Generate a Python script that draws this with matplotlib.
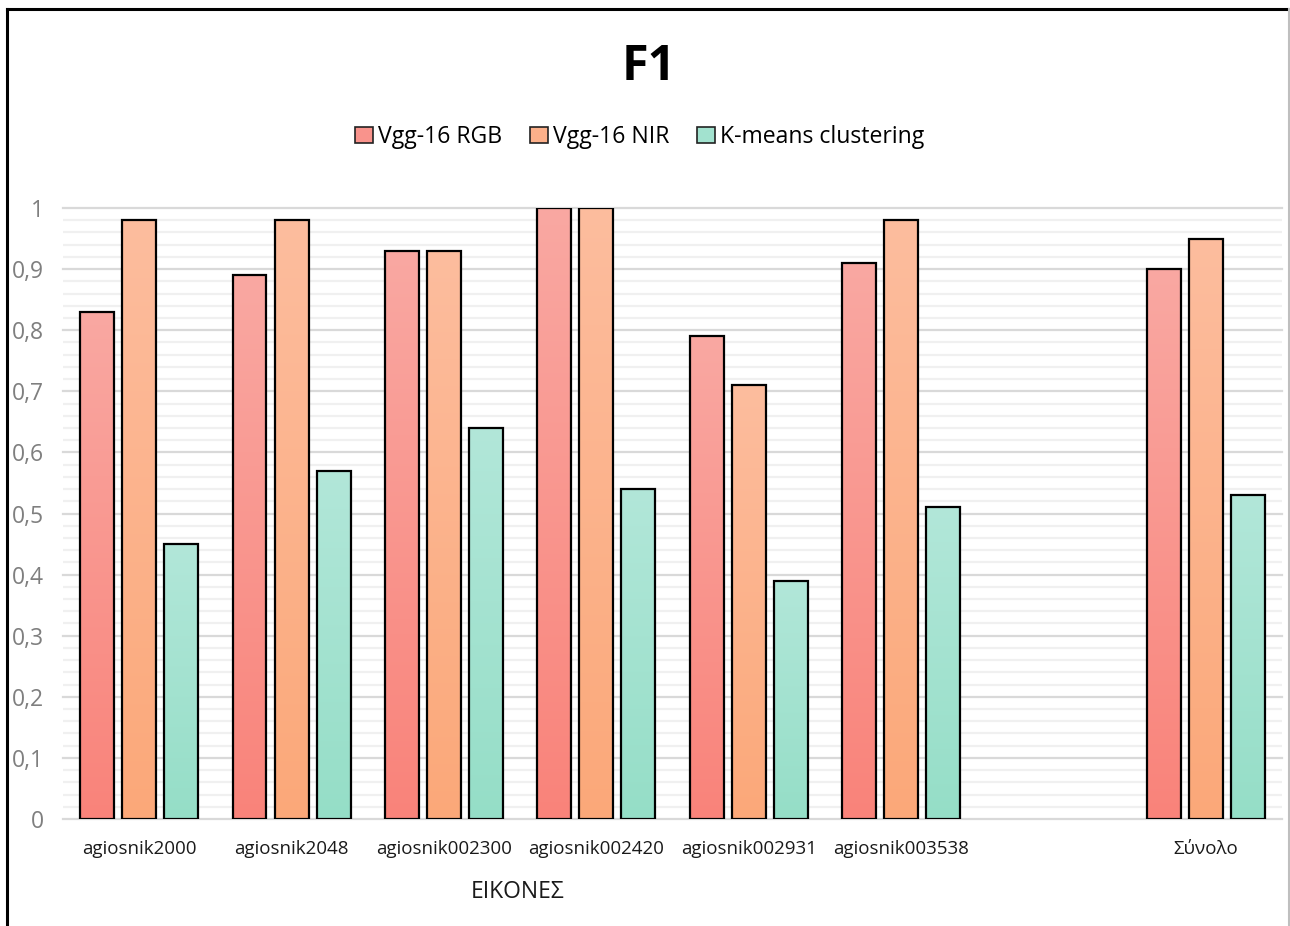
import numpy as np
import matplotlib
matplotlib.use("Agg")
import matplotlib.pyplot as plt
from matplotlib.colors import LinearSegmentedColormap
from matplotlib.patches import Rectangle, Patch
from matplotlib.lines import Line2D

plt.rcParams['font.family'] = ['Open Sans', 'DejaVu Sans']

categories = ["agiosnik2000", "agiosnik2048", "agiosnik002300", "agiosnik002420",
              "agiosnik002931", "agiosnik003538", "", "Σύνολο"]
series_names = ["Vgg-16 RGB", "Vgg-16 NIR", "K-means clustering"]
vgg_rgb = [0.83, 0.89, 0.93, 1.00, 0.79, 0.91, None, 0.90]
vgg_nir = [0.98, 0.98, 0.93, 1.00, 0.71, 0.98, None, 0.95]
kmeans = [0.45, 0.57, 0.64, 0.54, 0.39, 0.51, None, 0.53]
y_ticks = [0, 0.1, 0.2, 0.3, 0.4, 0.5, 0.6, 0.7, 0.8, 0.9, 1]

# (bottom colour, top colour) of each series' vertical gradient
gradients = [("#FA837A", "#F9A8A2"),
             ("#FBA879", "#FDBD9E"),
             ("#95DEC7", "#B2E7D9")]
legend_colors = ["#F9938C", "#FCB08A", "#A2E2CF"]

fig = plt.figure(figsize=(12.9, 9.26), dpi=100)
ax = fig.add_axes([63 / 1290, 1 - 819 / 926, (1282 - 63) / 1290, (819 - 208) / 926])

n = len(categories)
bar_w = 0.223
offsets = [-0.276, 0.0, 0.276]
grad = np.linspace(0, 1, 256).reshape(-1, 1)

for s, values in enumerate([vgg_rgb, vgg_nir, kmeans]):
    cmap = LinearSegmentedColormap.from_list(f"g{s}", list(gradients[s]))
    for i, v in enumerate(values):
        if v is None:
            continue
        x0 = i + offsets[s] - bar_w / 2
        rect = Rectangle((x0, 0), bar_w, v, facecolor="none",
                         edgecolor="black", linewidth=1.6, zorder=4)
        ax.add_patch(rect)
        im = ax.imshow(grad, extent=[x0, x0 + bar_w, 0, v], origin="lower",
                       cmap=cmap, aspect="auto", zorder=3)
        im.set_clip_path(rect)

ax.set_xlim(-0.5, n - 0.5)
ax.set_ylim(0, 1.0)

# gridlines: light minor every 0.02, stronger major every 0.1
for yv in np.arange(0.02, 1.0, 0.02):
    if abs(round(yv * 10) - yv * 10) > 1e-6:
        ax.axhline(yv, color="#F0F0F0", linewidth=1.6, zorder=1)
for yv in y_ticks:
    ax.axhline(yv, color="#D9D9D9", linewidth=1.6, zorder=2, clip_on=False)

for sp in ax.spines.values():
    sp.set_visible(False)

ax.set_yticks(y_ticks)
ax.set_yticklabels([str(t).replace(".", ",") for t in y_ticks],
                   fontsize=16.5, color="#7F7F7F")
ax.set_xticks(range(n))
ax.set_xticklabels(categories, fontsize=13.5, color="#1A1A1A")
ax.tick_params(axis="both", length=0)
ax.tick_params(axis="y", pad=14)
ax.tick_params(axis="x", pad=15)

fig.text(649 / 1290, 1 - 67 / 926, "F1", fontsize=35, fontweight="bold",
         ha="center", va="center", color="#000000")
fig.text(518 / 1290, 1 - 892 / 926, "ΕΙΚΟΝΕΣ", fontsize=16.5,
         ha="center", va="center", color="#1A1A1A")

handles = [Patch(facecolor=c, edgecolor="#222222", linewidth=1.2) for c in legend_colors]
fig.legend(handles, series_names, loc="center", ncol=3,
           bbox_to_anchor=(640 / 1290, 1 - 137 / 926), frameon=False,
           fontsize=16.6, handlelength=0.75, handleheight=0.75,
           handletextpad=0.25, columnspacing=1.2)

# chart frame
fig.add_artist(Line2D([7 / 1290, 1], [1 - 9 / 926, 1 - 9 / 926],
                      transform=fig.transFigure, color="black", linewidth=2.2))
fig.add_artist(Line2D([7 / 1290, 7 / 1290], [0, 1 - 9 / 926],
                      transform=fig.transFigure, color="black", linewidth=2.2))
fig.add_artist(Line2D([1289 / 1290, 1289 / 1290], [0, 1 - 9 / 926],
                      transform=fig.transFigure, color="#BFBFBF", linewidth=1.5))

fig.savefig("out.png", dpi=100)
